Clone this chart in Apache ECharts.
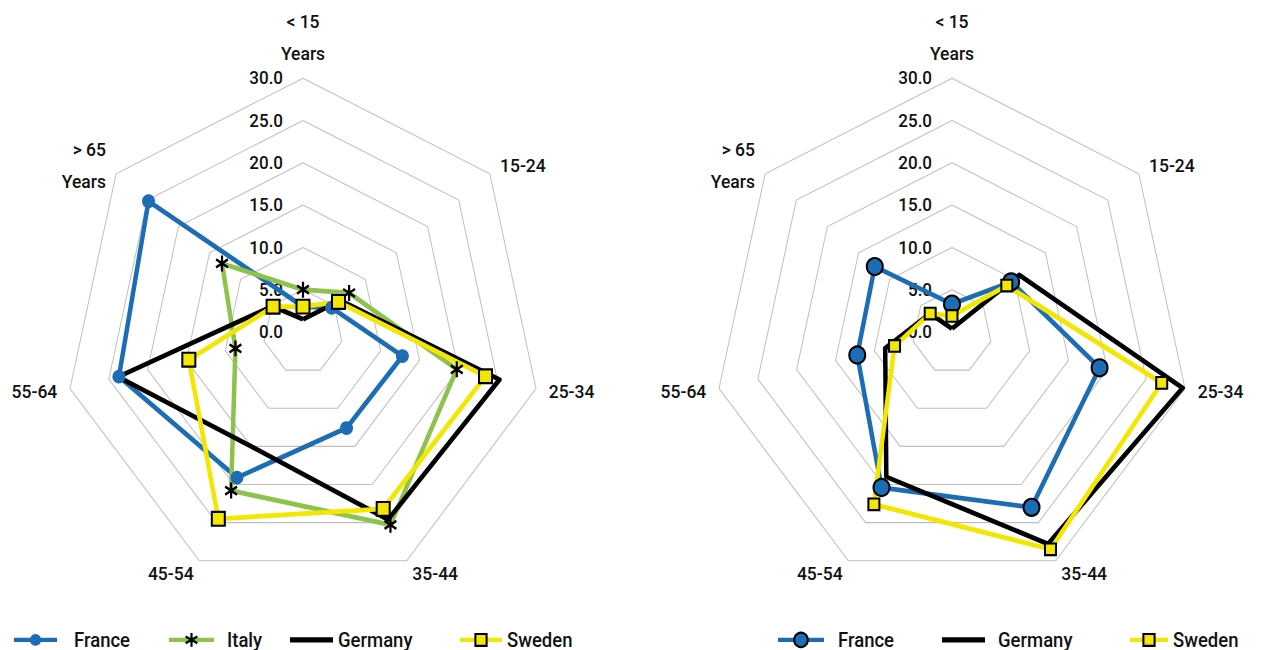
<!DOCTYPE html>
<html>
<head>
<meta charset="utf-8">
<script src="https://cdn.jsdelivr.net/npm/echarts@6/dist/echarts.min.js"></script>
<style>
html,body{margin:0;padding:0;background:#fff;overflow:hidden;width:1261px;height:650px;}
#c{width:1261px;height:640px;transform:scaleY(1.0621);transform-origin:0 0;}
</style>
</head>
<body>
<div id="c"></div>
<script>
// Categories in clockwise order starting at the top
const categories = ['< 15\nYears', '15-24', '25-34', '35-44', '45-54', '55-64', '> 65\nYears'];
const tickMin = 0, tickMax = 30, tickStep = 5;

// Left chart
const franceA  = [3.0, 4.6, 12.8, 12.6, 19.1, 23.7, 24.8];
const italyA   = [5.0, 7.4, 19.8, 25.3, 20.8, 8.7, 13.0];
const germanyA = [1.5, 6.0, 25.3, 24.6, 15.0, 23.8, 4.9];
const swedenA  = [3.0, 5.7, 23.5, 23.2, 24.5, 14.7, 4.8];

// Right chart
const franceB  = [3.3, 9.5, 19.0, 23.0, 20.4, 12.2, 12.4];
const germanyB = [0.4, 10.8, 29.7, 27.8, 19.0, 8.6, 3.5];
const swedenB  = [1.9, 8.8, 27.0, 28.5, 22.6, 7.4, 3.5];

const BLUE = '#1C6DB4', GREEN = '#8DC24B', BLACK = '#000000', YELLOW = '#F3E600';
const FONT = 'Roboto';
const ASTERISK = 'path://M8.4,0L11.6,0L11.6,20L8.4,20Z M17.85,3.6L19.45,6.4L2.15,16.4L0.55,13.6Z M0.55,6.4L2.15,3.6L19.45,13.6L17.85,16.4Z';

// ECharts places indicators counter-clockwise; reorder so they read clockwise
function cw(arr) { return [arr[0]].concat(arr.slice(1).reverse()); }

function indicators() {
  return cw(categories).map((name, i) => {
    const o = { name: name, min: tickMin, max: tickMax };
    if (i === 0) { o.axisLabel = { show: true }; o.nameGap = 8; }
    return o;
  });
}

function radarCfg(cx) {
  return {
    center: [cx, 312.6], radius: 239, startAngle: 90, shape: 'polygon',
    splitNumber: (tickMax - tickMin) / tickStep,
    indicator: indicators(),
    axisNameGap: 13,
    axisName: { color: '#111', fontSize: 17.5, fontFamily: FONT, fontWeight: 500, lineHeight: 30 },
    axisLine: { show: false }, axisTick: { show: false }, splitArea: { show: false },
    splitLine: { lineStyle: { color: '#BFBFBF', width: 1 } },
    axisLabel: { show: false, color: '#111', fontSize: 17, fontFamily: FONT, fontWeight: 500, margin: 20,
      formatter: v => Number(v).toFixed(1) }
  };
}

function radarSeries(name, ri, values, style) {
  return Object.assign({ type: 'radar', name: name, radarIndex: ri, silent: true,
    data: [{ value: cw(values), name: name }] }, style);
}

const LW = 4.5;
const sFranceA = { symbol: 'circle', symbolSize: 13, itemStyle: { color: BLUE }, lineStyle: { color: BLUE, width: LW } };
const sFranceB = { symbol: 'circle', symbolSize: 16, itemStyle: { color: BLUE, borderColor: BLACK, borderWidth: 2 }, lineStyle: { color: BLUE, width: LW } };
const sItaly   = { symbol: ASTERISK, symbolSize: [13, 15], itemStyle: { color: BLACK }, lineStyle: { color: GREEN, width: LW } };
const sGermany = { symbol: 'none', itemStyle: { color: BLACK }, lineStyle: { color: BLACK, width: LW } };
const sSwedenA = { symbol: 'rect', symbolSize: 13, itemStyle: { color: YELLOW, borderColor: BLACK, borderWidth: 2 }, lineStyle: { color: YELLOW, width: LW } };
const sSwedenB = { symbol: 'rect', symbolSize: 11, itemStyle: { color: YELLOW, borderColor: BLACK, borderWidth: 2 }, lineStyle: { color: YELLOW, width: LW } };

// Legend-only line series (no data) so the legend icons show line + marker
function legendSeries(name, style) {
  return Object.assign({ type: 'line', name: name, data: [] }, style);
}

const legendText = { color: '#111', fontSize: 18.5, fontFamily: FONT, fontWeight: 500, lineHeight: 16 };
function legend(item, left, w, h, padLeft) {
  return { data: [item], left: left, top: 593, padding: 0, itemWidth: w, itemHeight: h,
    selectedMode: false, lineStyle: { width: 4 },
    textStyle: Object.assign({}, legendText, { padding: [0, 0, 0, padLeft] }) };
}

const option = {
  animation: false,
  backgroundColor: '#fff',
  grid: { left: 0, top: 0, width: 10, height: 10, show: false },
  xAxis: { type: 'value', show: false },
  yAxis: { type: 'value', show: false },
  radar: [radarCfg(303), radarCfg(952)],
  legend: [
    legend('France', 12, 43, 14, 12),
    legend('Italy', 167, 45, 16, 8),
    legend({ name: 'Germany', icon: 'rect' }, 290, 43, 5, 0),
    legend('Sweden', 458, 42, 14, 0),
    legend({ name: 'France', itemStyle: { borderColor: BLACK, borderWidth: 2 } }, 776, 46, 17, 9),
    legend({ name: 'Germany', icon: 'rect' }, 942, 43, 5, 8),
    legend('Sweden', 1128, 38, 14, 0)
  ],
  series: [
    legendSeries('France', sFranceA),
    legendSeries('Italy', sItaly),
    legendSeries('Germany', sGermany),
    legendSeries('Sweden', sSwedenA),
    radarSeries('France', 0, franceA, sFranceA),
    radarSeries('Italy', 0, italyA, sItaly),
    radarSeries('Germany', 0, germanyA, sGermany),
    radarSeries('Sweden', 0, swedenA, sSwedenA),
    radarSeries('France', 1, franceB, sFranceB),
    radarSeries('Germany', 1, germanyB, sGermany),
    radarSeries('Sweden', 1, swedenB, sSwedenB)
  ]
};

const chart = echarts.init(document.getElementById('c'), null, { renderer: 'svg' });
chart.setOption(option);
</script>
</body>
</html>
